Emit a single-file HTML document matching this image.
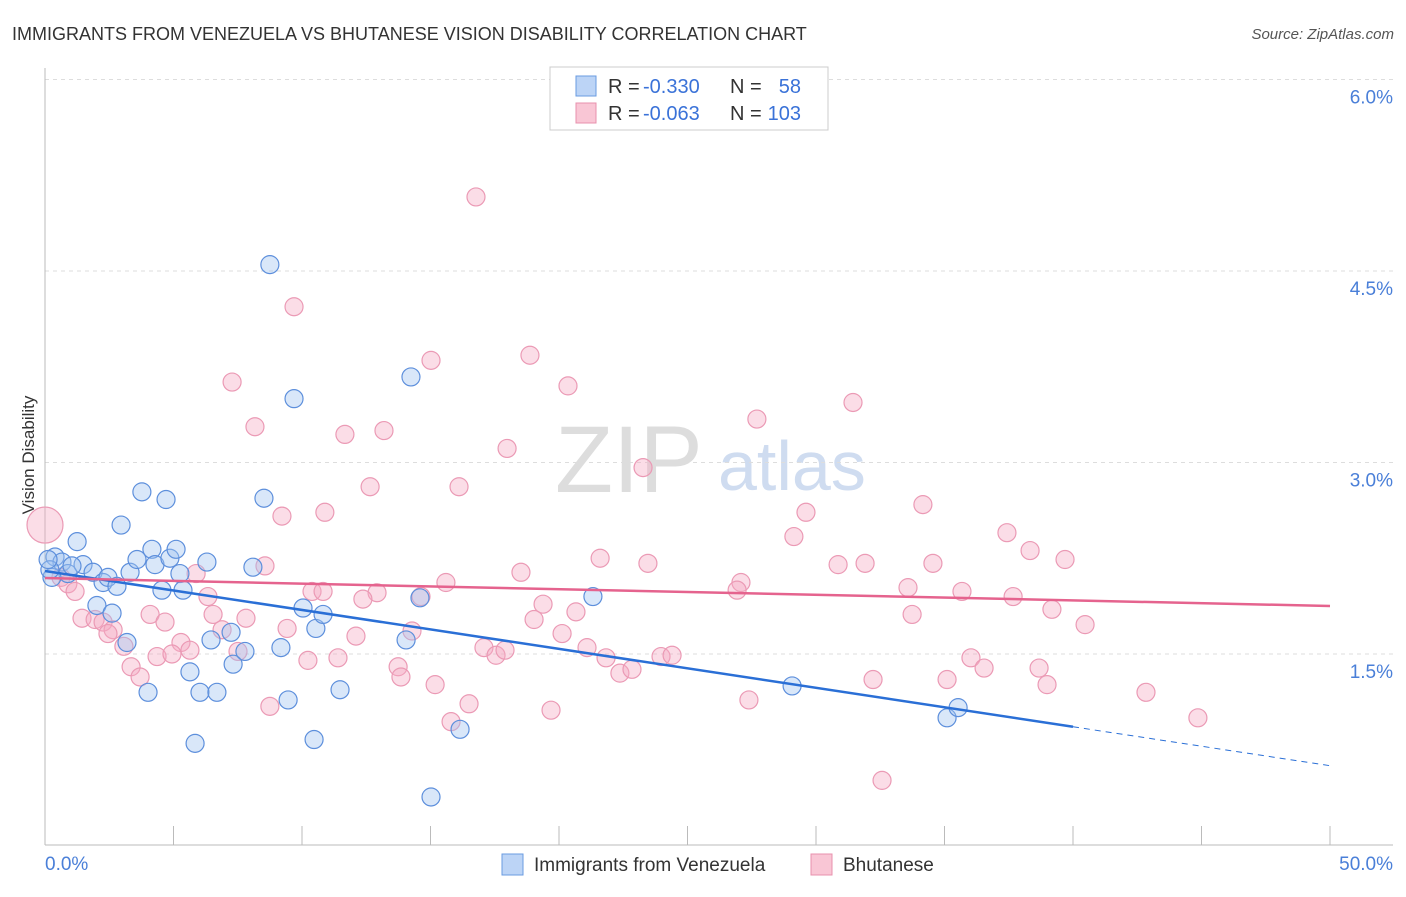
<!DOCTYPE html>
<html><head><meta charset="utf-8"><style>
body{margin:0;background:#fff;font-family:"Liberation Sans",sans-serif;}
svg text{font-family:"Liberation Sans",sans-serif;}
</style></head><body>
<svg id="chart" width="1406" height="892" xmlns="http://www.w3.org/2000/svg">
<text x="12" y="40" font-size="18" fill="#333">IMMIGRANTS FROM VENEZUELA VS BHUTANESE VISION DISABILITY CORRELATION CHART</text>
<text x="1394" y="39" font-size="15" fill="#555" font-style="italic" text-anchor="end">Source: ZipAtlas.com</text>
<text x="34" y="455" font-size="17" fill="#333" text-anchor="middle" transform="rotate(-90 34 455)">Vision Disability</text>
<text x="555" y="492" font-size="95" fill="#ddd" font-family="Liberation Serif">ZIP</text>
<text x="718" y="490" font-size="70" fill="#cfdcf0">atlas</text>
<g id="grid"></g><g id="axes"></g><g id="pink"></g><g id="blue"></g><g id="lines"></g>
<g>
<rect x="550" y="67" width="278" height="63" fill="#fff" stroke="#ccc"/>
<rect x="576" y="76" width="20" height="20" fill="#bcd4f6" stroke="#6a9be0"/>
<rect x="576" y="103" width="20" height="20" fill="#f9c6d5" stroke="#e890ad"/>
<text x="608" y="93" font-size="20" fill="#333">R =</text>
<text x="643" y="93" font-size="20" fill="#3a72d8">-0.330</text>
<text x="730" y="93" font-size="20" fill="#333">N =</text>
<text x="801" y="93" font-size="20" fill="#3a72d8" text-anchor="end">58</text>
<text x="608" y="120" font-size="20" fill="#333">R =</text>
<text x="643" y="120" font-size="20" fill="#3a72d8">-0.063</text>
<text x="730" y="120" font-size="20" fill="#333">N =</text>
<text x="801" y="120" font-size="20" fill="#3a72d8" text-anchor="end">103</text>
</g>
<g>
<rect x="502" y="854" width="21" height="21" fill="#bcd4f6" stroke="#6a9be0"/>
<text x="534" y="871" font-size="19" fill="#333">Immigrants from Venezuela</text>
<rect x="811" y="854" width="21" height="21" fill="#f9c6d5" stroke="#e890ad"/>
<text x="843" y="871" font-size="19" fill="#333">Bhutanese</text>
</g>
</svg>
<script>
const yTicks=[1.5,3.0,4.5,6.0];
const yTickLabels=["1.5%","3.0%","4.5%","6.0%"];
const blueX=[8.75,9.69,14.24,3.77,4.71,8.52,2.96,1.25,0.39,0.66,0.89,1.48,1.05,1.87,2.26,2.45,2.80,3.31,3.58,4.16,4.28,4.86,5.10,5.25,5.37,6.30,4.55,2.02,2.61,3.19,4.01,5.64,6.03,6.69,6.46,7.24,7.32,7.78,8.09,9.18,9.46,10.04,10.54,10.82,10.47,11.48,14.05,14.59,15.02,16.15,5.84,21.32,29.07,35.10,35.53,0.27,0.19,0.12];
const blueY=[4.55,3.50,3.67,2.77,2.71,2.72,2.51,2.38,2.26,2.22,2.13,2.20,2.19,2.14,2.06,2.10,2.03,2.14,2.24,2.32,2.20,2.25,2.32,2.13,2.00,2.22,2.00,1.88,1.82,1.59,1.20,1.36,1.20,1.20,1.61,1.67,1.42,1.52,2.18,1.55,1.14,1.86,1.70,1.81,0.83,1.22,1.61,1.94,0.38,0.91,0.80,1.95,1.25,1.00,1.08,2.10,2.16,2.24];
const pinkX=[16.77,9.69,15.02,18.87,20.35,7.28,8.17,11.67,13.19,17.98,27.70,31.44,23.27,12.65,16.11,9.22,10.89,29.61,34.16,29.14,37.43,21.60,23.46,30.86,31.91,34.55,38.33,39.69,8.56,18.52,5.88,15.60,27.08,26.93,33.58,35.68,37.67,10.39,10.82,12.92,12.37,6.34,19.38,20.66,39.18,40.47,33.74,4.09,4.67,6.54,7.82,1.44,1.95,2.26,2.65,2.45,9.42,6.89,12.10,19.03,20.12,3.07,5.29,5.64,4.36,4.94,7.51,10.23,11.40,14.28,14.63,17.08,17.55,17.90,21.09,21.83,22.37,22.84,23.97,24.40,3.35,3.70,13.74,13.85,15.18,16.50,19.69,8.75,15.80,27.39,32.22,35.10,36.03,36.54,38.68,38.99,42.84,44.86,32.57,0.62,0.89,1.17,0];
const pinkY=[5.08,4.22,3.80,3.84,3.60,3.63,3.28,3.22,3.25,3.11,3.34,3.47,2.96,2.81,2.81,2.58,2.61,2.61,2.67,2.42,2.45,2.25,2.21,2.20,2.21,2.21,2.31,2.24,2.19,2.14,2.13,2.06,2.06,2.00,2.02,1.99,1.95,1.99,1.99,1.98,1.93,1.95,1.89,1.83,1.85,1.73,1.81,1.81,1.75,1.81,1.78,1.78,1.77,1.75,1.69,1.66,1.70,1.69,1.64,1.77,1.66,1.56,1.59,1.53,1.48,1.50,1.52,1.45,1.47,1.68,1.95,1.55,1.49,1.53,1.55,1.47,1.35,1.38,1.48,1.49,1.40,1.32,1.40,1.32,1.26,1.11,1.06,1.09,0.97,1.14,1.30,1.30,1.47,1.39,1.39,1.26,1.20,1.00,0.51,2.10,2.05,1.99,2.51];
const blueTrend=[2.15,-0.0305];
const pinkTrend=[2.095,-0.00438];
const NS="http://www.w3.org/2000/svg";
const xs=v=>45+v*25.7, ys=v=>845.5-v*127.67;
function mk(p,t,a){const e=document.createElementNS(NS,t);for(const k in a)e.setAttribute(k,a[k]);document.getElementById(p).appendChild(e);return e;}
yTicks.forEach((t,i)=>{
 const l=mk('grid','line',{x1:45,x2:1393,y1:ys(t),y2:ys(t),stroke:'#ddd','stroke-dasharray':'4,4'});
 
 
 const tx=mk('grid','text',{x:1393,y:ys(t)+24,'font-size':19,fill:'#4a7fd8','text-anchor':'end'});
 tx.textContent=yTickLabels[i];
 
 
});
mk('axes','line',{x1:45,x2:45,y1:68,y2:845,stroke:'#bbb'});
mk('axes','line',{x1:45,x2:1393,y1:845,y2:845,stroke:'#bbb'});
for(let i=0;i<=10;i++){mk('axes','line',{x1:xs(i*5),x2:xs(i*5),y1:826,y2:845,stroke:'#bbb'});}
const x0=mk('axes','text',{x:45,y:870,'font-size':19,fill:'#4a7fd8'});x0.textContent='0.0%';


const x1=mk('axes','text',{x:1393,y:870,'font-size':19,fill:'#4a7fd8','text-anchor':'end'});x1.textContent='50.0%';


pinkX.forEach((x,i)=>{const c=mk('pink','circle',{cx:xs(x),cy:ys(pinkY[i]),r:(x===0?18:9),fill:'rgba(246,170,195,0.4)',stroke:'#eb9ab5','stroke-width':1.2});
 
 });
blueX.forEach((x,i)=>{const c=mk('blue','circle',{cx:xs(x),cy:ys(blueY[i]),r:9,fill:'rgba(160,195,240,0.4)',stroke:'#5d8fdc','stroke-width':1.2});
 
 });
const bl=mk('lines','line',{x1:xs(0),y1:ys(blueTrend[0]),x2:xs(40),y2:ys(blueTrend[0]+40*blueTrend[1]),stroke:'#2a6fd6','stroke-width':2.5});


mk('lines','line',{x1:xs(40),y1:ys(blueTrend[0]+40*blueTrend[1]),x2:xs(50),y2:ys(blueTrend[0]+50*blueTrend[1]),stroke:'#2a6fd6','stroke-width':1,'stroke-dasharray':'6,5'});
const pl=mk('lines','line',{x1:xs(0),y1:ys(pinkTrend[0]),x2:xs(50),y2:ys(pinkTrend[0]+50*pinkTrend[1]),stroke:'#e5638e','stroke-width':2.5});


</script>
</body></html>
